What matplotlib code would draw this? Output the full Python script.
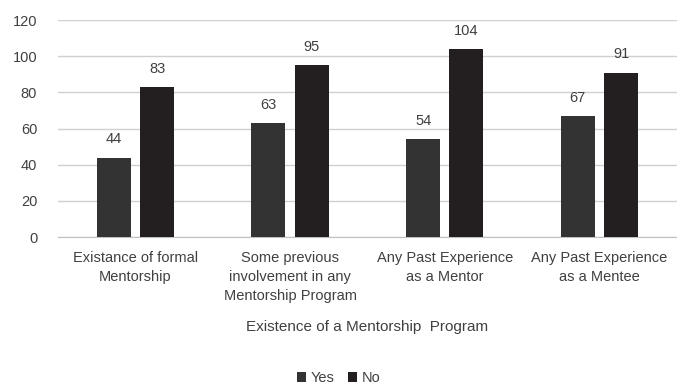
import matplotlib
matplotlib.use('Agg')
import matplotlib.pyplot as plt
import numpy as np

# data
categories = ['Existance of formal\nMentorship',
              'Some previous\ninvolvement in any\nMentorship Program',
              'Any Past Experience\nas a Mentor',
              'Any Past Experience\nas a Mentee']
yes_vals = [44, 63, 54, 67]
no_vals = [83, 95, 104, 91]
series_names = ['Yes', 'No']
yticks = [0, 20, 40, 60, 80, 100, 120]

plt.rcParams['font.family'] = ['Liberation Sans', 'DejaVu Sans']
txt = '#404040'

fig = plt.figure(figsize=(6.77, 3.88), dpi=100)
ax = fig.add_axes([0.0857, 0.389, 0.914, 0.559])

x = np.arange(len(categories))
w = 0.22
off = 0.14
b1 = ax.bar(x - off, yes_vals, w, color='#333333', label=series_names[0], zorder=3)
b2 = ax.bar(x + off, no_vals, w, color='#231f20', label=series_names[1], zorder=3)

for bars in (b1, b2):
    for r in bars:
        ax.annotate(f'{int(r.get_height())}', (r.get_x() + r.get_width() / 2, r.get_height()),
                    xytext=(0, 8), textcoords='offset points', ha='center', va='bottom',
                    fontsize=10.5, color=txt)

ax.set_xlim(-0.5, 3.5)
ax.set_ylim(0, 120)
ax.set_yticks(yticks)
ax.yaxis.grid(True, color='#d0d0d0', lw=1, zorder=0)
ax.set_axisbelow(True)
for s in ['top', 'right', 'left']:
    ax.spines[s].set_visible(False)
ax.spines['bottom'].set_color('#c0c0c0')
ax.tick_params(axis='both', length=0, labelsize=10.5, colors=txt)
ax.tick_params(axis='y', pad=15)
ax.tick_params(axis='x', pad=10, labelsize=10.5)
ax.set_xticks(x)
ax.set_xticklabels(categories, va='top', linespacing=1.45)
ax.set_xlabel('Existence of a Mentorship  Program', fontsize=11, color=txt, labelpad=12)

fig.legend(handles=[b1, b2], labels=series_names, loc='center', bbox_to_anchor=(0.5, 0.025),
           ncol=2, frameon=False, fontsize=10.5, handlelength=0.65, handleheight=0.65,
           handletextpad=0.3, columnspacing=0.9, labelcolor=txt)

fig.savefig('out.png', dpi=100)
